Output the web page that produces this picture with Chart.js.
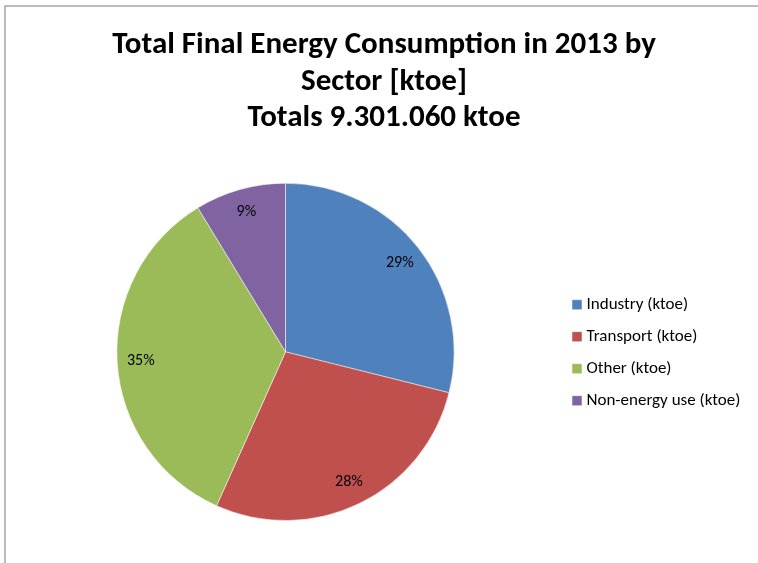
<!DOCTYPE html>
<html>
<head>
<meta charset="utf-8">
<script src="https://cdn.jsdelivr.net/npm/chart.js@4"></script>
<style>
html,body{margin:0;padding:0;background:#fff;}
#wrap{position:relative;width:758px;height:563px;}
</style>
</head>
<body>
<div id="wrap"><canvas id="c" width="758" height="563"></canvas></div>
<script>
const categories = ['Industry (ktoe)', 'Transport (ktoe)', 'Other (ktoe)', 'Non-energy use (ktoe)'];
const values = [2688000, 2586000, 3218000, 809000];
const colors = ['#4F81BD', '#C0504D', '#9BBB59', '#8064A2'];
const titleLines = ['Total Final Energy Consumption in 2013 by', 'Sector [ktoe]', 'Totals 9.301.060 ktoe'];
const FONT = "Carlito, Lato, 'Open Sans', sans-serif";

const frame = {
  id: 'frame',
  beforeDraw(chart) {
    const ctx = chart.ctx;
    ctx.save();
    ctx.fillStyle = '#fff';
    ctx.fillRect(0, 0, chart.width, chart.height);
    ctx.strokeStyle = '#a6a6a6';
    ctx.lineWidth = 1.5;
    ctx.strokeRect(5, 6, 900, 900);
    ctx.restore();
  }
};

const legendWidth = {
  id: 'legendWidth',
  beforeInit(chart) {
    const lg = chart.legend;
    if (!lg) return;
    const orig = lg.fit;
    lg.fit = function () {
      orig.call(this);
      this.width = 197;
    };
  }
};

const pctLabels = {
  id: 'pctLabels',
  afterDatasetsDraw(chart) {
    const ctx = chart.ctx;
    const meta = chart.getDatasetMeta(0);
    const data = chart.data.datasets[0].data;
    const total = data.reduce((a, b) => a + b, 0);
    ctx.save();
    ctx.font = "16px " + FONT;
    ctx.fillStyle = '#000';
    ctx.textAlign = 'center';
    ctx.textBaseline = 'middle';
    meta.data.forEach((arc, i) => {
      const p = arc.getProps(['x', 'y', 'startAngle', 'endAngle', 'outerRadius'], true);
      const mid = (p.startAngle + p.endAngle) / 2;
      const r = p.outerRadius * 0.86;
      const pct = Math.round(data[i] / total * 100) + '%';
      ctx.fillText(pct, p.x + Math.cos(mid) * r, p.y + Math.sin(mid) * r);
    });
    ctx.restore();
  }
};

new Chart(document.getElementById('c'), {
  type: 'pie',
  data: {
    labels: categories,
    datasets: [{
      data: values,
      backgroundColor: colors,
      borderColor: 'rgba(255,255,255,0.5)',
      borderWidth: 1
    }]
  },
  options: {
    responsive: false,
    animation: false,
    layout: { padding: { left: 10, right: 0, top: 0, bottom: 42 } },
    plugins: {
      title: {
        display: true,
        text: titleLines,
        color: '#000',
        font: { family: FONT, size: 31, weight: 'bold', lineHeight: 1.18 },
        padding: { top: 27, bottom: 46 }
      },
      legend: {
        position: 'right',
        title: { display: true, text: ' ', padding: { top: 170, bottom: 0 }, font: { size: 12 } },
        labels: {
          usePointStyle: true,
          pointStyle: 'rect',
          boxWidth: 2,
          boxHeight: 10,
          padding: 15,
          color: '#000',
          font: { family: FONT, size: 17 }
        }
      },
      tooltip: { enabled: false }
    }
  },
  plugins: [frame, legendWidth, pctLabels]
});
</script>
</body>
</html>
